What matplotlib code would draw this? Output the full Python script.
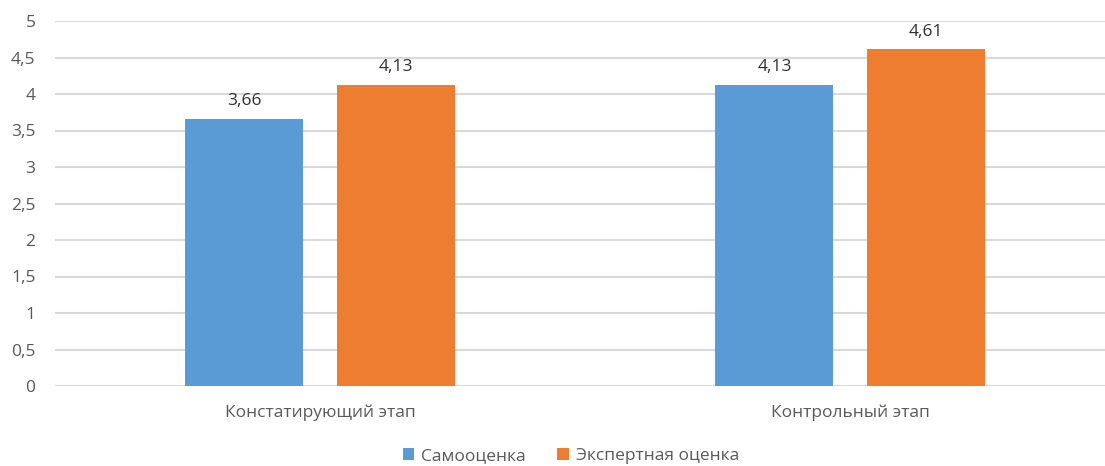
import matplotlib
matplotlib.use("Agg")
import matplotlib.pyplot as plt
import numpy as np

categories = ["Констатирующий этап", "Контрольный этап"]
series_names = ["Самооценка", "Экспертная оценка"]
self_vals = [3.66, 4.13]
expert_vals = [4.13, 4.61]
yticks = [0, 0.5, 1, 1.5, 2, 2.5, 3, 3.5, 4, 4.5, 5]

colors = ["#5b9bd5", "#ed7d31"]

plt.rcParams['font.family'] = ['Open Sans', 'DejaVu Sans']

W, H = 1105, 466
fig = plt.figure(figsize=(W / 100, H / 100), dpi=100)
ax = fig.add_axes([55 / W, (H - 386) / H, 1050 / W, 365 / H])

x = np.arange(len(categories))
bw = 0.2226
off = 0.1425
for vals, c, name, sgn in [(self_vals, colors[0], series_names[0], -1),
                           (expert_vals, colors[1], series_names[1], 1)]:
    bars = ax.bar(x + sgn * off, vals, bw, color=c, label=name, zorder=3)
    for b, v in zip(bars, vals):
        ax.annotate(f"{v:.2f}".replace(".", ","),
                    (b.get_x() + b.get_width() / 2, v),
                    xytext=(0, 7), textcoords="offset points",
                    ha="center", va="bottom", fontsize=12.5, color="#303030")

ax.set_xlim(-0.5, 1.5 - 10 / 530)
ax.set_ylim(0, 5)
ax.set_yticks(yticks)
ax.set_yticklabels([f"{t:g}".replace(".", ",") for t in yticks])
ax.set_xticks(x)
ax.set_xticklabels(categories)
ax.tick_params(axis="both", length=0, labelsize=12.5, labelcolor="#595959")
ax.tick_params(axis="y", pad=14)
ax.tick_params(axis="x", pad=13)
ax.grid(axis="y", color="#d9d9d9", linewidth=1.5, zorder=0)
for s in ax.spines.values():
    s.set_visible(False)

handles, labels = ax.get_legend_handles_labels()
fig.legend(handles, labels, loc="center", bbox_to_anchor=(571 / W, 1 - 456 / H),
           ncol=2, frameon=False, fontsize=12.5, handlelength=0.65, handleheight=0.65,
           handletextpad=0.4, columnspacing=1.8, labelcolor="#595959")

fig.savefig("out.png", dpi=100)
